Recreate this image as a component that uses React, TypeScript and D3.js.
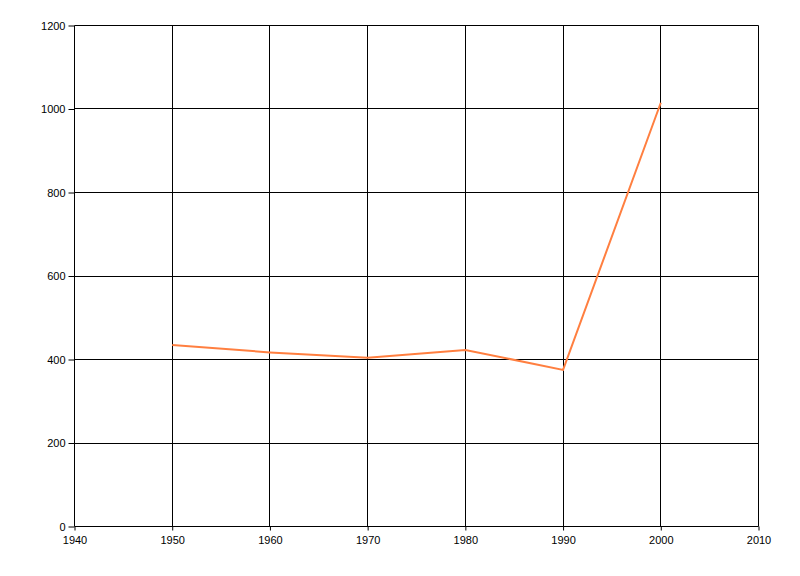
import { useRef, useEffect } from "react";
import * as d3 from "d3";

const years = [1950, 1960, 1970, 1980, 1990, 2000];
const values = [435, 417, 404, 423, 375, 1015];
const xTicks = [1940, 1950, 1960, 1970, 1980, 1990, 2000, 2010];
const yTicks = [0, 200, 400, 600, 800, 1000, 1200];

export default function App() {
  const svgRef = useRef<SVGSVGElement>(null);

  useEffect(() => {
    if (!svgRef.current) return;
    const svg = d3.select(svgRef.current);
    svg.selectAll("*").remove();

    const width = 800;
    const height = 576;
    const margin = { top: 25, right: 42, bottom: 50, left: 74 };
    const innerWidth = width - margin.left - margin.right;
    const innerHeight = height - margin.top - margin.bottom;

    const g = svg
      .append("g")
      .attr("transform", `translate(${margin.left + 0.5}, ${margin.top + 0.5})`);

    const x = d3.scaleLinear().domain([1940, 2010]).range([0, innerWidth]);
    const y = d3.scaleLinear().domain([0, 1200]).range([innerHeight, 0]);

    // Grid lines
    g.selectAll(".vgrid")
      .data(xTicks)
      .enter()
      .append("line")
      .attr("x1", (d) => Math.round(x(d)))
      .attr("x2", (d) => Math.round(x(d)))
      .attr("y1", 0)
      .attr("y2", innerHeight)
      .attr("stroke", "#000");

    g.selectAll(".hgrid")
      .data(yTicks)
      .enter()
      .append("line")
      .attr("x1", 0)
      .attr("x2", innerWidth)
      .attr("y1", (d) => Math.round(y(d)))
      .attr("y2", (d) => Math.round(y(d)))
      .attr("stroke", "#000");

    // Y axis
    g.append("g")
      .call(
        d3.axisLeft(y).tickValues(yTicks).tickSize(6).tickPadding(3).tickFormat(d3.format("d"))
      )
      .call((a) => a.select(".domain").remove())
      .call((a) => a.selectAll(".tick line").attr("stroke", "#000"))
      .call((a) =>
        a
          .selectAll(".tick text")
          .attr("fill", "#000")
          .attr("font-size", "11px")
          .attr("font-family", "'Liberation Sans', Arial, sans-serif")
      );

    // X axis
    g.append("g")
      .attr("transform", `translate(0, ${innerHeight})`)
      .call(
        d3.axisBottom(x).tickValues(xTicks).tickSize(4).tickPadding(6).tickFormat(d3.format("d"))
      )
      .call((a) => a.select(".domain").remove())
      .call((a) => a.selectAll(".tick line").attr("stroke", "#000"))
      .call((a) =>
        a
          .selectAll(".tick text")
          .attr("fill", "#000")
          .attr("font-size", "11px")
          .attr("font-family", "'Liberation Sans', Arial, sans-serif")
      );

    // Line
    const line = d3
      .line<number>()
      .x((_, i) => x(years[i]))
      .y((d) => y(d));

    g.append("path")
      .datum(values)
      .attr("d", line)
      .attr("fill", "none")
      .attr("stroke", "#FF7F40")
      .attr("stroke-width", 2);
  }, []);

  return (
    <svg
      ref={svgRef}
      width={800}
      height={576}
      style={{ position: "absolute", left: 0, top: 0, background: "#fff" }}
    />
  );
}
